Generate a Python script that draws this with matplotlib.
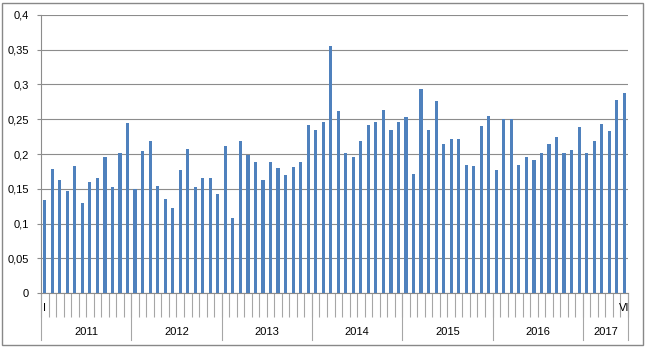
import matplotlib
matplotlib.use("Agg")
import matplotlib.pyplot as plt
import matplotlib.patches as patches
import numpy as np

plt.rcParams['font.family'] = ['Liberation Sans', 'DejaVu Sans']

years = ['2011', '2012', '2013', '2014', '2015', '2016', '2017']
months_per_year = [12, 12, 12, 12, 12, 12, 6]
first_label = 'I'
last_label = 'VI'

v2011 = [0.134, 0.178, 0.162, 0.147, 0.183, 0.130, 0.160, 0.165, 0.195, 0.153, 0.201, 0.244]
v2012 = [0.150, 0.205, 0.218, 0.154, 0.135, 0.123, 0.177, 0.207, 0.152, 0.166, 0.166, 0.143]
v2013 = [0.212, 0.108, 0.218, 0.199, 0.189, 0.162, 0.189, 0.180, 0.170, 0.181, 0.189, 0.242]
v2014 = [0.234, 0.246, 0.355, 0.262, 0.202, 0.196, 0.219, 0.242, 0.246, 0.264, 0.235, 0.246]
v2015 = [0.253, 0.171, 0.294, 0.235, 0.276, 0.215, 0.221, 0.222, 0.184, 0.183, 0.240, 0.255]
v2016 = [0.177, 0.250, 0.250, 0.184, 0.195, 0.192, 0.201, 0.215, 0.225, 0.202, 0.206, 0.239]
v2017 = [0.202, 0.218, 0.243, 0.233, 0.277, 0.288]

values = v2011 + v2012 + v2013 + v2014 + v2015 + v2016 + v2017
n = len(values)
x = np.arange(n)

W, H = 645, 348
fig = plt.figure(figsize=(W / 100, H / 100), dpi=100)
ax = fig.add_axes([41 / W, (H - 293) / H, (628 - 41) / W, (293 - 15) / H])

grid_c = '#8c8c8c'
fs = 8
ax.bar(x, values, width=0.42, color='#4F81BD', zorder=3)

ax.set_xlim(-0.5, n - 0.5)
ax.set_ylim(0, 0.4)
yt = np.arange(0, 0.401, 0.05)
ax.set_yticks(yt)
ax.set_yticklabels([('%g' % round(v, 2)).replace('.', ',') for v in yt], fontsize=fs)
ax.yaxis.grid(True, color=grid_c, lw=0.8, zorder=0)
ax.tick_params(axis='y', length=3, width=0.8, color=grid_c, pad=5.5)

# month tick marks sit between categories
ax.set_xticks(np.arange(-0.5, n, 1.0))
ax.set_xticklabels([])
ax.tick_params(axis='x', length=24 * 0.72, width=0.8, color='#a6a6a6', direction='out')

for s in ['top', 'right']:
    ax.spines[s].set_visible(False)
for s in ['left', 'bottom']:
    ax.spines[s].set_color(grid_c)
    ax.spines[s].set_linewidth(0.8)

trans = ax.get_xaxis_transform()
# first and last month labels
ax.text(0, -0.054, first_label, transform=trans, ha='center', va='center', fontsize=fs)
ax.text(n - 1, -0.054, last_label, transform=trans, ha='center', va='center', fontsize=fs)

# year groups
edges = np.concatenate([[0], np.cumsum(months_per_year)]) - 0.5
for e in edges:
    ax.plot([e, e], [0, -0.169], transform=trans, color='#a6a6a6', lw=0.8, clip_on=False)
for i, yr in enumerate(years):
    ax.text((edges[i] + edges[i + 1]) / 2, -0.14, yr, transform=trans,
            ha='center', va='center', fontsize=fs)

fig.patches.append(patches.Rectangle((2 / W, 3 / H), (W - 4) / W, (H - 6) / H,
                                     transform=fig.transFigure, fill=False,
                                     edgecolor='#888888', lw=1))

fig.savefig('out.png', dpi=100)
